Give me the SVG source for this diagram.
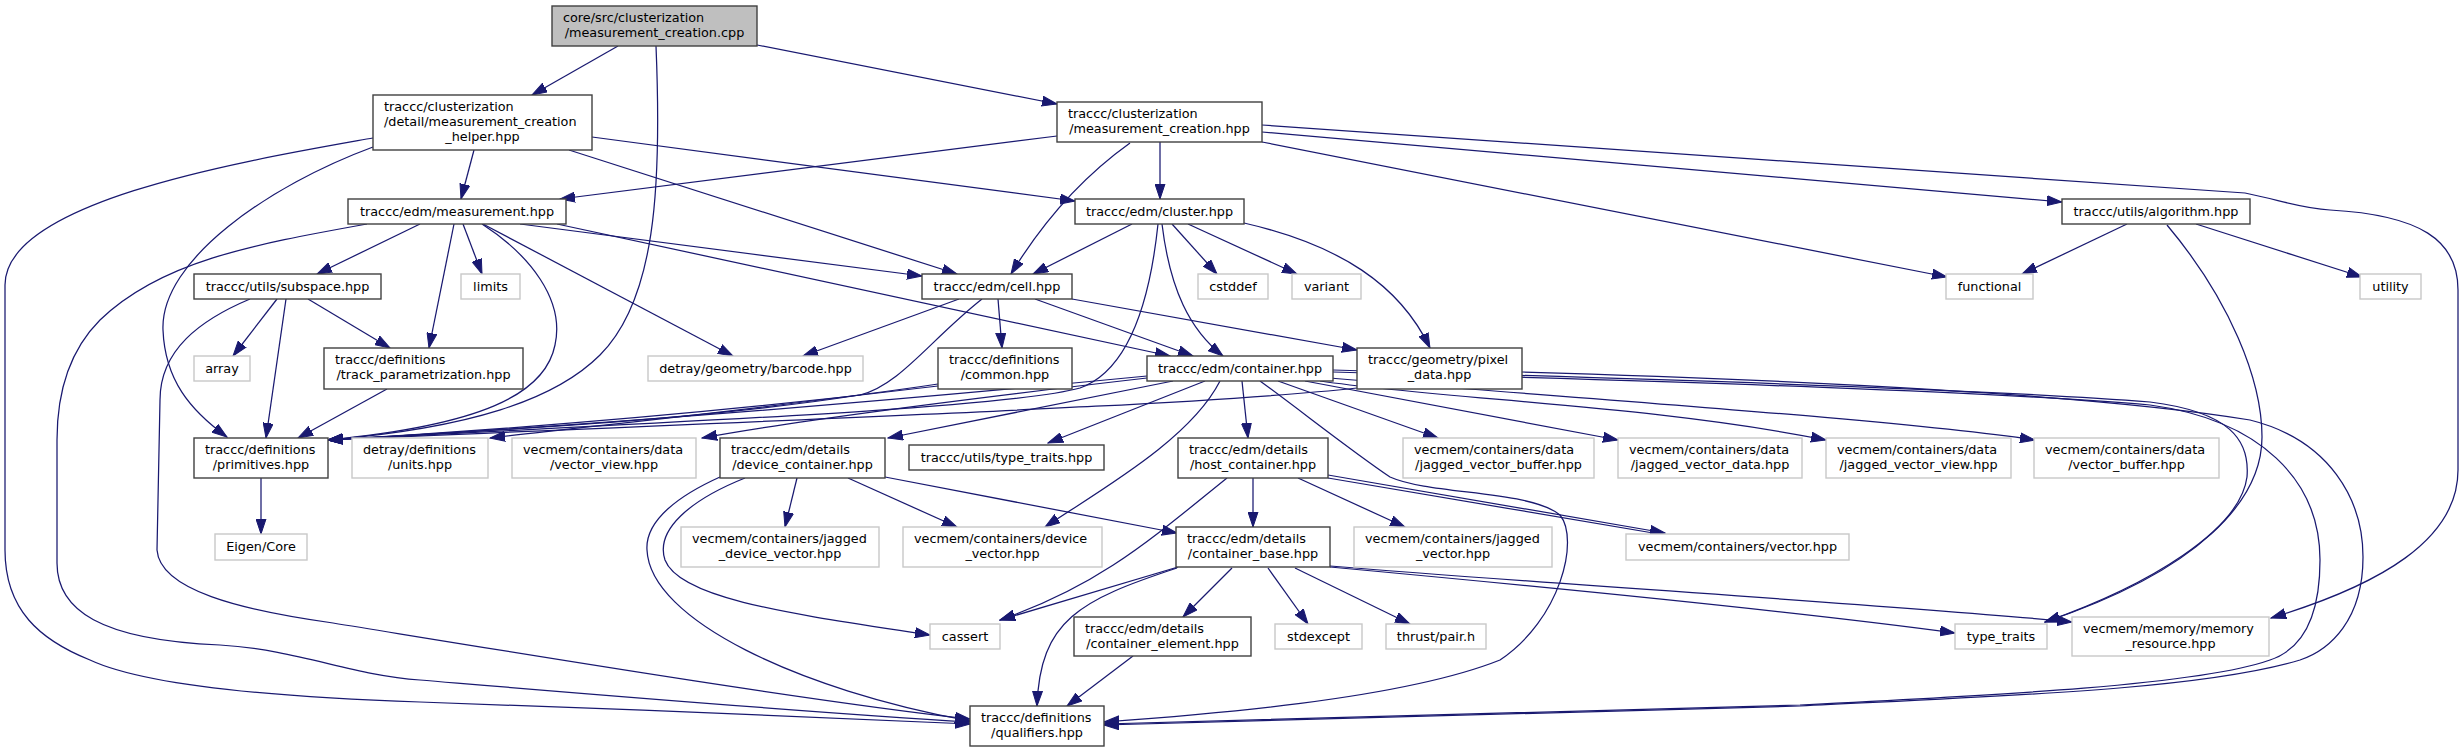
<svg xmlns="http://www.w3.org/2000/svg" width="2464" height="752" viewBox="0 0 2464 752">
<style>
rect{fill:#fff;stroke:#404040;stroke-width:1.4}
.g rect{stroke:#c8c8c8}
.r rect{fill:#bfbfbf}
text{font-family:"DejaVu Sans","Liberation Sans",sans-serif;font-size:12.8px;fill:#000}
.c{text-anchor:middle}
#edges path{fill:none;stroke:#191970;stroke-width:1.25;marker-end:url(#a)}
</style>
<defs>
<marker id="a" markerWidth="16" markerHeight="11" refX="15" refY="5.5" orient="auto" markerUnits="userSpaceOnUse">
<path d="M0,0.5 L15,5.5 L0,10.5 z" fill="#191970" stroke="#191970" stroke-width="1"/>
</marker>
</defs>
<rect x="0" y="0" width="2464" height="752" style="fill:#fff;stroke:none"/>
<g id="edges">
<path d="M618,46 L532,95"/>
<path d="M757,45 L1057,104"/>
<path d="M656,46 C662,190 655,300 600,355 C555,400 470,428 328,440"/>
<path d="M474,150 L461,199"/>
<path d="M592,137 L1075,201"/>
<path d="M569,150 L957,274"/>
<path d="M373,147 C270,185 160,260 163,330 C165,380 190,410 227,437"/>
<path d="M373,138 C250,160 5,200 5,285 L5,550 C5,610 40,640 90,660 C150,688 300,698 420,702 C600,708 800,716 970,724"/>
<path d="M367,224 C250,245 160,262 100,320 C65,355 57,400 57,440 L57,563 C57,610 100,640 220,645 C300,650 350,675 420,680 C600,695 800,712 970,722"/>
<path d="M250,299 C200,320 160,350 160,400 L157,550 C160,590 240,610 333,623 C500,650 800,700 970,719"/>
<path d="M420,224 L317,274"/>
<path d="M277,299 L233,356"/>
<path d="M286,299 L266,438"/>
<path d="M308,299 L390,348"/>
<path d="M387,389 L298,438"/>
<path d="M261,478 L261,534"/>
<path d="M463,224 L482,274"/>
<path d="M454,224 L429,348"/>
<path d="M482,224 C530,255 565,300 555,345 C545,395 480,425 328,440"/>
<path d="M483,224 L733,356"/>
<path d="M520,224 L922,276"/>
<path d="M557,224 L1170,356"/>
<path d="M1057,136 L560,199"/>
<path d="M1130,143 C1095,168 1050,210 1011,274"/>
<path d="M1160,142 L1160,199"/>
<path d="M1262,142 L1947,277"/>
<path d="M1262,132 L2062,202"/>
<path d="M1262,125 L2245,193 C2280,200 2300,208 2330,210 C2420,215 2458,240 2458,290 L2458,470 C2458,540 2380,585 2271,618"/>
<path d="M1132,224 L1033,274"/>
<path d="M1172,224 L1217,274"/>
<path d="M1188,224 L1297,274"/>
<path d="M1244,223 C1340,245 1400,285 1430,348"/>
<path d="M1162,224 C1170,290 1190,330 1223,356"/>
<path d="M1158,224 C1150,300 1130,370 1080,388 C1000,410 600,425 328,440"/>
<path d="M959,299 L803,356"/>
<path d="M982,299 C930,340 900,385 860,395 C700,420 500,430 328,440"/>
<path d="M998,299 L1002,348"/>
<path d="M1035,299 L1193,356"/>
<path d="M1072,299 L1357,350"/>
<path d="M938,386 C700,415 500,430 328,440"/>
<path d="M938,384 C800,405 600,425 490,438"/>
<path d="M1147,376 C900,400 600,425 328,440"/>
<path d="M1147,378 C1000,395 800,420 702,438"/>
<path d="M1173,381 L888,438"/>
<path d="M1205,381 L1048,443"/>
<path d="M1220,381 C1190,440 1100,490 1045,527"/>
<path d="M1242,381 L1248,438"/>
<path d="M1278,381 L1438,438"/>
<path d="M1305,381 L1618,440"/>
<path d="M1320,381 C1450,400 1650,405 1826,440"/>
<path d="M1330,378 C1600,400 1900,420 2035,440"/>
<path d="M1333,370 C1700,380 2000,390 2150,402 C2230,412 2250,440 2247,477 C2240,530 2150,585 2045,622"/>
<path d="M1333,372 C1700,382 2000,392 2150,405 C2260,420 2320,480 2320,560 C2320,620 2300,650 2270,660 C2200,685 2000,695 1800,705 C1500,715 1300,720 1104,724"/>
<path d="M1522,372 C1800,380 2100,395 2250,420 C2330,440 2363,500 2363,557 C2363,620 2330,650 2300,660 C2200,690 2000,696 1800,706 C1500,716 1300,721 1104,725"/>
<path d="M1357,388 C1200,405 900,415 328,440"/>
<path d="M1260,381 C1300,410 1350,450 1390,477 C1430,495 1530,490 1560,515 C1580,540 1560,620 1500,660 C1400,700 1200,715 1104,722"/>
<path d="M797,478 L785,527"/>
<path d="M848,478 L957,527"/>
<path d="M885,477 L1177,533"/>
<path d="M745,478 C690,500 655,530 665,560 C680,600 800,615 930,635"/>
<path d="M720,477 C680,495 645,520 647,550 C650,620 800,690 970,721"/>
<path d="M1227,478 C1150,540 1100,585 1000,620"/>
<path d="M1253,478 L1253,527"/>
<path d="M1298,478 L1405,527"/>
<path d="M1328,475 L1665,533"/>
<path d="M1328,478 L1665,535"/>
<path d="M1178,567 L1000,620"/>
<path d="M1177,568 C1080,600 1040,620 1037,706"/>
<path d="M1232,568 L1183,617"/>
<path d="M1268,568 L1308,624"/>
<path d="M1295,568 L1410,624"/>
<path d="M1330,567 C1600,592 1800,612 1955,633"/>
<path d="M1330,566 C1600,588 1900,605 2072,622"/>
<path d="M1133,656 L1067,706"/>
<path d="M2127,224 L2022,274"/>
<path d="M2196,224 L2362,277"/>
<path d="M2167,225 C2230,300 2262,380 2262,437 C2262,500 2200,570 2045,622"/>
</g>
<g id="n0" class="r"><rect x="552" y="6" width="205" height="40"/><text x="563" y="22">core/src/clusterization</text><text class="c" x="654.5" y="37">/measurement_creation.cpp</text></g>
<g id="n1"><rect x="373" y="95" width="219" height="55"/><text x="384" y="111">traccc/clusterization</text><text x="384" y="126">/detail/measurement_creation</text><text class="c" x="482.5" y="141">_helper.hpp</text></g>
<g id="n2"><rect x="1057" y="102" width="205" height="40"/><text x="1068" y="118">traccc/clusterization</text><text class="c" x="1159.5" y="133">/measurement_creation.hpp</text></g>
<g id="n3"><rect x="348" y="199" width="218" height="25"/><text class="c" x="457" y="216">traccc/edm/measurement.hpp</text></g>
<g id="n4"><rect x="1075" y="199" width="169" height="25"/><text class="c" x="1159.5" y="216">traccc/edm/cluster.hpp</text></g>
<g id="n5"><rect x="2062" y="199" width="188" height="25"/><text class="c" x="2156" y="216">traccc/utils/algorithm.hpp</text></g>
<g id="n6"><rect x="194" y="274" width="187" height="25"/><text class="c" x="287.5" y="291">traccc/utils/subspace.hpp</text></g>
<g id="n7" class="g"><rect x="461" y="274" width="59" height="25"/><text class="c" x="490.5" y="291">limits</text></g>
<g id="n8"><rect x="922" y="274" width="150" height="25"/><text class="c" x="997" y="291">traccc/edm/cell.hpp</text></g>
<g id="n9" class="g"><rect x="1198" y="274" width="70" height="25"/><text class="c" x="1233" y="291">cstddef</text></g>
<g id="n10" class="g"><rect x="1292" y="274" width="69" height="25"/><text class="c" x="1326.5" y="291">variant</text></g>
<g id="n11" class="g"><rect x="1946" y="274" width="87" height="25"/><text class="c" x="1989.5" y="291">functional</text></g>
<g id="n12" class="g"><rect x="2360" y="274" width="61" height="25"/><text class="c" x="2390.5" y="291">utility</text></g>
<g id="n13" class="g"><rect x="194" y="356" width="56" height="25"/><text class="c" x="222" y="373">array</text></g>
<g id="n14"><rect x="324" y="348" width="199" height="41"/><text x="335" y="364">traccc/definitions</text><text class="c" x="423.5" y="379">/track_parametrization.hpp</text></g>
<g id="n15" class="g"><rect x="648" y="356" width="215" height="25"/><text class="c" x="755.5" y="373">detray/geometry/barcode.hpp</text></g>
<g id="n16"><rect x="938" y="348" width="134" height="41"/><text x="949" y="364">traccc/definitions</text><text class="c" x="1005" y="379">/common.hpp</text></g>
<g id="n17"><rect x="1147" y="356" width="186" height="25"/><text class="c" x="1240" y="373">traccc/edm/container.hpp</text></g>
<g id="n18"><rect x="1357" y="348" width="165" height="41"/><text x="1368" y="364">traccc/geometry/pixel</text><text class="c" x="1439.5" y="379">_data.hpp</text></g>
<g id="n19"><rect x="194" y="438" width="134" height="40"/><text x="205" y="454">traccc/definitions</text><text class="c" x="261" y="469">/primitives.hpp</text></g>
<g id="n20" class="g"><rect x="352" y="438" width="136" height="40"/><text x="363" y="454">detray/definitions</text><text class="c" x="420" y="469">/units.hpp</text></g>
<g id="n21" class="g"><rect x="512" y="438" width="184" height="40"/><text x="523" y="454">vecmem/containers/data</text><text class="c" x="604" y="469">/vector_view.hpp</text></g>
<g id="n22"><rect x="720" y="438" width="165" height="40"/><text x="731" y="454">traccc/edm/details</text><text class="c" x="802.5" y="469">/device_container.hpp</text></g>
<g id="n23"><rect x="909" y="445" width="195" height="25"/><text class="c" x="1006.5" y="462">traccc/utils/type_traits.hpp</text></g>
<g id="n24"><rect x="1178" y="438" width="150" height="40"/><text x="1189" y="454">traccc/edm/details</text><text class="c" x="1253" y="469">/host_container.hpp</text></g>
<g id="n25" class="g"><rect x="1403" y="438" width="191" height="40"/><text x="1414" y="454">vecmem/containers/data</text><text class="c" x="1498.5" y="469">/jagged_vector_buffer.hpp</text></g>
<g id="n26" class="g"><rect x="1618" y="438" width="184" height="40"/><text x="1629" y="454">vecmem/containers/data</text><text class="c" x="1710" y="469">/jagged_vector_data.hpp</text></g>
<g id="n27" class="g"><rect x="1826" y="438" width="185" height="40"/><text x="1837" y="454">vecmem/containers/data</text><text class="c" x="1918.5" y="469">/jagged_vector_view.hpp</text></g>
<g id="n28" class="g"><rect x="2034" y="438" width="185" height="40"/><text x="2045" y="454">vecmem/containers/data</text><text class="c" x="2126.5" y="469">/vector_buffer.hpp</text></g>
<g id="n29" class="g"><rect x="215" y="534" width="92" height="26"/><text class="c" x="261" y="551">Eigen/Core</text></g>
<g id="n30" class="g"><rect x="681" y="527" width="198" height="40"/><text x="692" y="543">vecmem/containers/jagged</text><text class="c" x="780" y="558">_device_vector.hpp</text></g>
<g id="n31" class="g"><rect x="903" y="527" width="199" height="40"/><text x="914" y="543">vecmem/containers/device</text><text class="c" x="1002.5" y="558">_vector.hpp</text></g>
<g id="n32"><rect x="1176" y="527" width="154" height="40"/><text x="1187" y="543">traccc/edm/details</text><text class="c" x="1253" y="558">/container_base.hpp</text></g>
<g id="n33" class="g"><rect x="1354" y="527" width="198" height="40"/><text x="1365" y="543">vecmem/containers/jagged</text><text class="c" x="1453" y="558">_vector.hpp</text></g>
<g id="n34" class="g"><rect x="1626" y="534" width="223" height="26"/><text class="c" x="1737.5" y="551">vecmem/containers/vector.hpp</text></g>
<g id="n35" class="g"><rect x="930" y="624" width="70" height="25"/><text class="c" x="965" y="641">cassert</text></g>
<g id="n36"><rect x="1074" y="617" width="177" height="39"/><text x="1085" y="633">traccc/edm/details</text><text class="c" x="1162.5" y="648">/container_element.hpp</text></g>
<g id="n37" class="g"><rect x="1275" y="624" width="87" height="25"/><text class="c" x="1318.5" y="641">stdexcept</text></g>
<g id="n38" class="g"><rect x="1386" y="624" width="100" height="25"/><text class="c" x="1436" y="641">thrust/pair.h</text></g>
<g id="n39" class="g"><rect x="1955" y="624" width="92" height="25"/><text class="c" x="2001" y="641">type_traits</text></g>
<g id="n40" class="g"><rect x="2072" y="617" width="197" height="39"/><text x="2083" y="633">vecmem/memory/memory</text><text class="c" x="2170.5" y="648">_resource.hpp</text></g>
<g id="n41"><rect x="970" y="706" width="134" height="40"/><text x="981" y="722">traccc/definitions</text><text class="c" x="1037" y="737">/qualifiers.hpp</text></g>
</svg>
